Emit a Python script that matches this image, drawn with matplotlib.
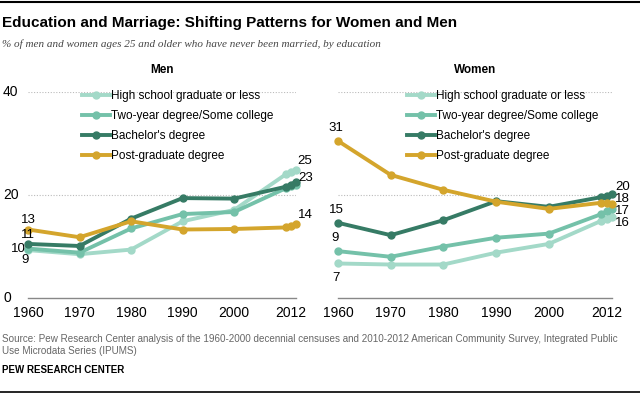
import matplotlib.pyplot as plt
from matplotlib.lines import Line2D

years = [1960, 1970, 1980, 1990, 2000, 2010, 2011, 2012]
tick_years = [1960, 1970, 1980, 1990, 2000, 2011]
tick_labels = ['1960', '1970', '1980', '1990', '2000', '2012']

series_names = ['High school graduate or less', 'Two-year degree/Some college',
                "Bachelor's degree", 'Post-graduate degree']
colors = ['#a3d9c8', '#74c1a9', '#367b65', '#d4a52c']

men_hs = [9.3, 8.5, 9.4, 14.9, 17.1, 24.0, 24.5, 24.9]
men_two = [9.6, 8.8, 13.5, 16.3, 16.7, 21.3, 21.7, 22.0]
men_ba = [10.5, 10.1, 15.4, 19.4, 19.3, 21.6, 22.0, 22.6]
men_pg = [13.3, 11.8, 14.9, 13.3, 13.4, 13.7, 13.9, 14.4]

women_hs = [6.7, 6.5, 6.5, 8.8, 10.5, 15.0, 15.4, 15.8]
women_two = [9.1, 8.0, 10.0, 11.7, 12.5, 16.3, 16.8, 17.3]
women_ba = [14.6, 12.2, 15.1, 18.8, 17.7, 19.6, 19.9, 20.1]
women_pg = [30.5, 23.9, 21.0, 18.7, 17.3, 18.5, 18.4, 18.3]

# labels: (year, value, text, dx px, dy px, ha)
men_labels = [(1960, men_pg[0], '13', 0, 10, 'center'),
              (1960, men_ba[0], '11', 0, 9, 'center'),
              (1960, men_two[0], '10', -10, 0, 'center'),
              (1960, men_hs[0], '9', -3, -10, 'center'),
              (2012, men_hs[-1], '25', 9, 9, 'center'),
              (2012, men_ba[-1], '23', 10, 4, 'center'),
              (2012, men_pg[-1], '14', 9, 9, 'center')]
women_labels = [(1960, women_pg[0], '31', -2, 13, 'center'),
                (1960, women_ba[0], '15', -2, 13, 'center'),
                (1960, women_two[0], '9', -3, 13, 'center'),
                (1960, women_hs[0], '7', -2, -15, 'center'),
                (2012, women_ba[-1], '20', 3, 7, 'left'),
                (2012, women_pg[-1], '18', 3, 5, 'left'),
                (2012, women_two[-1], '17', 3, -2, 'left'),
                (2012, women_hs[-1], '16', 3, -6, 'left')]

plt.rcParams['font.family'] = ['Liberation Sans', 'DejaVu Sans']

fig = plt.figure(figsize=(6.4, 3.95), dpi=100)
ax0 = fig.add_axes([28 / 640, 1 - 298 / 395, 268 / 640, 206 / 395])
ax1 = fig.add_axes([338 / 640, 1 - 298 / 395, 274 / 640, 206 / 395])


def draw(ax, data, labels, title, legend_x):
    for vals, c, name in zip(data, colors, series_names):
        ax.plot(years, vals, color=c, lw=2.8, marker='o', ms=5,
                clip_on=False, label=name, zorder=3)
    ax.set_xlim(1960, 2012)
    ax.set_ylim(0, 40)
    for s in ['top', 'right', 'left']:
        ax.spines[s].set_visible(False)
    ax.spines['bottom'].set_color('#888888')
    ax.spines['bottom'].set_linewidth(1)
    for g in [20, 40]:
        ax.axhline(g, color='#bbbbbb', lw=0.8, ls=(0, (1, 1.5)), zorder=1)
    ax.set_yticks([])
    ax.set_xticks(tick_years)
    ax.set_xticklabels(tick_labels, fontsize=10)
    ax.tick_params(axis='x', length=0, pad=6)
    ax.set_title(title, fontsize=8.5, fontweight='bold', pad=14)
    for x, y, t, dx, dy, ha in labels:
        ax.annotate(t, (x, y), xytext=(dx, dy), textcoords='offset pixels',
                    ha=ha, va='center', fontsize=9.5)
    handles = [Line2D([0], [0], color=c, lw=2.8, marker='o', ms=5) for c in colors]
    ax.legend(handles, series_names, loc='upper left',
              bbox_to_anchor=(legend_x, 1.01), frameon=False, fontsize=8.5,
              handlelength=2.4, handletextpad=0.1, labelspacing=0.68,
              borderpad=0, borderaxespad=0)


draw(ax0, [men_hs, men_two, men_ba, men_pg], men_labels, 'Men', 0.2)
draw(ax1, [women_hs, women_two, women_ba, women_pg], women_labels, 'Women', 0.25)

for v in [0, 20, 40]:
    ax0.annotate(str(v), (0, v), xycoords=('figure pixels', 'data'),
                 xytext=(3, 0), textcoords='offset pixels',
                 ha='left', va='center', fontsize=10)

fig.add_artist(Line2D([0, 1], [1 - 2 / 395, 1 - 2 / 395], color='black', lw=1.5))
fig.add_artist(Line2D([0, 1], [3 / 395, 3 / 395], color='black', lw=1.2))
fig.text(2 / 640, 1 - 23 / 395, 'Education and Marriage: Shifting Patterns for Women and Men',
         fontsize=11, fontweight='bold', va='center')
fig.text(2 / 640, 1 - 44 / 395,
         '% of men and women ages 25 and older who have never been married, by education',
         fontsize=8, style='italic', color='#444444', va='center',
         family=['Liberation Serif', 'DejaVu Serif'])
fig.text(2 / 640, 1 - 345 / 395,
         'Source: Pew Research Center analysis of the 1960-2000 decennial censuses and 2010-2012 American Community Survey, Integrated Public\nUse Microdata Series (IPUMS)',
         fontsize=7.1, color='#666666', va='center', linespacing=1.3)
fig.text(2 / 640, 1 - 370 / 395, 'PEW RESEARCH CENTER', fontsize=7, fontweight='bold',
         va='center')

fig.savefig('out.png', dpi=100)
